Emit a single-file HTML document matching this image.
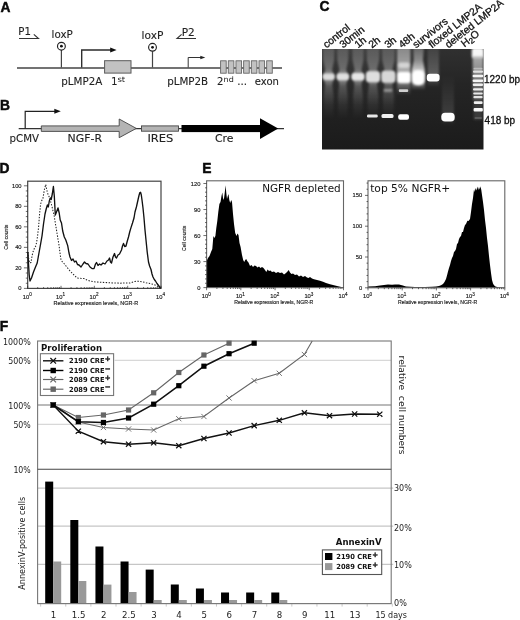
<!DOCTYPE html>
<html lang="en"><head><meta charset="utf-8"><title>Figure</title>
<style>
html,body{margin:0;padding:0;background:#fff;}
svg{display:block;}
.dj{font-family:'DejaVu Sans','Liberation Sans',sans-serif;}
.ls{font-family:'Liberation Sans','DejaVu Sans',sans-serif;}
.pl{font-family:'Liberation Sans','DejaVu Sans',sans-serif;font-weight:bold;font-size:13.8px;fill:#0a0a0a;stroke:#0a0a0a;stroke-width:0.45px;}
.t10{font-size:9.6px;fill:#222;stroke:#222;stroke-width:0.1px;}
.ax{font-family:'Liberation Sans','DejaVu Sans',sans-serif;font-size:5.8px;fill:#1a1a1a;stroke:#1a1a1a;stroke-width:0.15px;}
.axs{font-family:'Liberation Sans','DejaVu Sans',sans-serif;font-size:4.6px;fill:#1a1a1a;}
.f9{font-size:8.6px;fill:#222;}
.lg{font-size:7px;font-weight:bold;fill:#111;}
.gl{font-family:'Liberation Sans','DejaVu Sans',sans-serif;font-size:10.4px;fill:#111;stroke:#111;stroke-width:0.3px;}
</style></head><body>
<svg width="520" height="620" viewBox="0 0 520 620">
<defs>
<filter id="b1" x="-50%" y="-50%" width="200%" height="200%"><feGaussianBlur stdDeviation="1"/></filter>
<filter id="b08" x="-50%" y="-50%" width="200%" height="200%"><feGaussianBlur stdDeviation="0.8"/></filter>
<filter id="b06" x="-50%" y="-50%" width="200%" height="200%"><feGaussianBlur stdDeviation="0.6"/></filter>
<filter id="b2" x="-50%" y="-50%" width="200%" height="200%"><feGaussianBlur stdDeviation="2"/></filter>
<filter id="b3" x="-50%" y="-100%" width="200%" height="300%"><feGaussianBlur stdDeviation="3 5"/></filter>
<linearGradient id="gelbg" x1="0" y1="0" x2="0" y2="1">
<stop offset="0" stop-color="#303030"/><stop offset="0.35" stop-color="#252525"/><stop offset="1" stop-color="#1b1b1b"/>
</linearGradient>
<filter id="bh" x="-50%" y="-10%" width="200%" height="120%"><feGaussianBlur stdDeviation="1.2 1"/></filter>
<linearGradient id="lft" x1="0" y1="0" x2="0" y2="1"><stop offset="0" stop-color="#fff" stop-opacity="0.06"/><stop offset="1" stop-color="#fff" stop-opacity="0"/></linearGradient>
<linearGradient id="lg1" x1="0" y1="0" x2="0" y2="1"><stop offset="0" stop-color="#fff" stop-opacity="0.14"/><stop offset="0.3" stop-color="#fff" stop-opacity="0.28"/><stop offset="0.42" stop-color="#fff" stop-opacity="0.5"/><stop offset="0.55" stop-color="#fff" stop-opacity="0.2"/><stop offset="0.8" stop-color="#fff" stop-opacity="0.06"/><stop offset="1" stop-color="#fff" stop-opacity="0"/></linearGradient>
<linearGradient id="lg2" x1="0" y1="0" x2="0" y2="1"><stop offset="0" stop-color="#fff" stop-opacity="0.4"/><stop offset="0.5" stop-color="#fff" stop-opacity="0.6"/><stop offset="0.8" stop-color="#fff" stop-opacity="0.3"/><stop offset="1" stop-color="#fff" stop-opacity="0"/></linearGradient>
<linearGradient id="lg5" x1="0" y1="0" x2="0" y2="1"><stop offset="0" stop-color="#fff" stop-opacity="0.22"/><stop offset="0.35" stop-color="#fff" stop-opacity="0.45"/><stop offset="0.6" stop-color="#fff" stop-opacity="0.8"/><stop offset="0.85" stop-color="#fff" stop-opacity="0.4"/><stop offset="1" stop-color="#fff" stop-opacity="0"/></linearGradient>
<linearGradient id="lg3" x1="0" y1="0" x2="0" y2="1"><stop offset="0" stop-color="#fff" stop-opacity="0.08"/><stop offset="0.7" stop-color="#fff" stop-opacity="0.25"/><stop offset="1" stop-color="#fff" stop-opacity="0"/></linearGradient>
<linearGradient id="lg4" x1="0" y1="0" x2="0" y2="1"><stop offset="0" stop-color="#fff" stop-opacity="0"/><stop offset="0.8" stop-color="#fff" stop-opacity="0.13"/><stop offset="1" stop-color="#fff" stop-opacity="0"/></linearGradient>
<linearGradient id="ldg" x1="0" y1="0" x2="0" y2="1"><stop offset="0" stop-color="#ccc" stop-opacity="0.8"/><stop offset="0.6" stop-color="#999" stop-opacity="0.7"/><stop offset="1" stop-color="#777" stop-opacity="0.5"/></linearGradient>
<clipPath id="gelclip"><rect x="322" y="49" width="161.5" height="100.5"/></clipPath>
</defs>
<rect width="520" height="620" fill="#fff"/>

<g id="panelA">
<text class="pl" x="0.6" y="12">A</text>
<line x1="17" y1="67.9" x2="282" y2="67.9" stroke="#444" stroke-width="1.45"/>
<text class="dj t10" x="18.3" y="35" textLength="12.6" lengthAdjust="spacingAndGlyphs">P1</text>
<path d="M19 38.5H38.5L33.8 34.3" fill="none" stroke="#333" stroke-width="1.1"/>
<text class="dj t10" x="51.6" y="38.3" textLength="21.2" lengthAdjust="spacingAndGlyphs">loxP</text>
<line x1="61.4" y1="50" x2="61.4" y2="67.5" stroke="#444" stroke-width="1.2"/>
<circle cx="61.4" cy="46.2" r="3.9" fill="#fff" stroke="#222" stroke-width="1.15"/><circle cx="61.4" cy="46.2" r="1.4" fill="#111"/>
<path d="M81.7 67.5V50H111.5" fill="none" stroke="#2a2a2a" stroke-width="1.35"/><path d="M110.2 47.6L116.6 50L110.2 52.4Z" fill="#111"/>
<rect x="104.6" y="60.7" width="26.4" height="12.4" fill="#c2c2c2" stroke="#5a5a5a" stroke-width="1"/>
<text class="dj t10" x="61.3" y="84.9" textLength="41" lengthAdjust="spacingAndGlyphs">pLMP2A</text>
<text class="dj t10" x="111.3" y="84.9" textLength="6.2" lengthAdjust="spacingAndGlyphs">1</text>
<text class="dj" x="117.4" y="82.4" textLength="7.8" lengthAdjust="spacingAndGlyphs" font-size="7.6" fill="#222">st</text>
<text class="dj t10" x="141.6" y="38.5" textLength="21.8" lengthAdjust="spacingAndGlyphs">loxP</text>
<line x1="152.5" y1="51" x2="152.5" y2="67.5" stroke="#444" stroke-width="1.2"/>
<circle cx="152.5" cy="47.3" r="3.9" fill="#fff" stroke="#222" stroke-width="1.15"/><circle cx="152.5" cy="47.3" r="1.4" fill="#111"/>
<text class="dj t10" x="181.8" y="35.7" textLength="13" lengthAdjust="spacingAndGlyphs">P2</text>
<path d="M196 38.5H177L181.6 34.3" fill="none" stroke="#333" stroke-width="1.1"/>
<path d="M188.2 67.5V57.5H201" fill="none" stroke="#333" stroke-width="1"/><path d="M200.3 55.8L205.3 57.5L200.3 59.2Z" fill="#222"/>
<text class="dj t10" x="167.2" y="84.7" textLength="41" lengthAdjust="spacingAndGlyphs">pLMP2B</text>
<rect x="220.60" y="60.8" width="5.6" height="12.4" fill="#c2c2c2" stroke="#666" stroke-width="0.9"/>
<rect x="228.28" y="60.8" width="5.6" height="12.4" fill="#c2c2c2" stroke="#666" stroke-width="0.9"/>
<rect x="235.96" y="60.8" width="5.6" height="12.4" fill="#c2c2c2" stroke="#666" stroke-width="0.9"/>
<rect x="243.64" y="60.8" width="5.6" height="12.4" fill="#c2c2c2" stroke="#666" stroke-width="0.9"/>
<rect x="251.32" y="60.8" width="5.6" height="12.4" fill="#c2c2c2" stroke="#666" stroke-width="0.9"/>
<rect x="259.00" y="60.8" width="5.6" height="12.4" fill="#c2c2c2" stroke="#666" stroke-width="0.9"/>
<rect x="266.68" y="60.8" width="5.6" height="12.4" fill="#c2c2c2" stroke="#666" stroke-width="0.9"/>
<text class="dj t10" x="217" y="85" textLength="6.4" lengthAdjust="spacingAndGlyphs">2</text>
<text class="dj" x="223.6" y="82.4" textLength="10.2" lengthAdjust="spacingAndGlyphs" font-size="7.6" fill="#222">nd</text>
<text class="dj t10" x="237.3" y="85" textLength="9.8" lengthAdjust="spacingAndGlyphs">...</text>
<text class="dj t10" x="254.8" y="85" textLength="24.2" lengthAdjust="spacingAndGlyphs">exon</text>
</g>
<g id="panelB">
<text class="pl" x="0" y="110">B</text>
<line x1="18.7" y1="128.6" x2="284" y2="128.6" stroke="#333" stroke-width="1.1"/>
<path d="M25.2 128.5V111.3H56" fill="none" stroke="#222" stroke-width="1.2"/><path d="M54.3 108.8L60.8 111.3L54.3 113.8Z" fill="#111"/>
<path d="M41.3 125.9H119.2V119L136.3 128.4L119.2 137.7V131.4H41.3Z" fill="#b4b4b4" stroke="#444" stroke-width="0.9" stroke-linejoin="miter"/>
<rect x="141.5" y="125.9" width="37" height="5.3" fill="#b4b4b4" stroke="#444" stroke-width="0.9"/>
<rect x="181.5" y="125" width="80" height="7.1" fill="#000"/>
<path d="M260 118.3L278.2 128.6L260 138.9Z" fill="#000"/>
<text class="dj t10" x="9.6" y="141.8" textLength="29.5" lengthAdjust="spacingAndGlyphs">pCMV</text>
<text class="dj t10" x="67.6" y="141.8" textLength="34.5" lengthAdjust="spacingAndGlyphs">NGF-R</text>
<text class="dj t10" x="147.4" y="141.9" textLength="26" lengthAdjust="spacingAndGlyphs">IRES</text>
<text class="dj t10" x="215" y="141.9" textLength="18.6" lengthAdjust="spacingAndGlyphs">Cre</text>
</g>
<g id="panelC">
<text class="pl" x="319.5" y="11">C</text>
<rect x="322" y="49" width="161.5" height="100.5" fill="url(#gelbg)"/>
<g clip-path="url(#gelclip)">
<rect x="322" y="49" width="74.6" height="62" fill="url(#lft)"/>
<path d="M322.9 47 L334.4 47 L334.2 60 L332.1 70 L334.4 76 L332.3 84 L333.6 96 L333.3 119 L324.1 119 L323.8 96 L325.1 84 L322.9 76 L325.2 70 L323.2 60 Z" fill="url(#lg1)" filter="url(#bh)"/>
<path d="M337.1 47 L348.6 47 L348.3 60 L346.2 70 L348.6 76 L346.4 84 L347.7 96 L347.4 119 L338.2 119 L337.9 96 L339.2 84 L337.1 76 L339.4 70 L337.3 60 Z" fill="url(#lg1)" filter="url(#bh)"/>
<path d="M352.2 47 L363.8 47 L363.5 60 L361.4 70 L363.8 76 L361.6 84 L362.9 96 L362.6 119 L353.4 119 L353.1 96 L354.4 84 L352.2 76 L354.6 70 L352.5 60 Z" fill="url(#lg1)" filter="url(#bh)"/>
<path d="M366.5 47 L379.5 47 L379.2 60 L376.9 70 L379.5 76 L377.0 84 L378.5 96 L378.2 119 L367.8 119 L367.5 96 L369.0 84 L366.5 76 L369.1 70 L366.8 60 Z" fill="url(#lg1)" filter="url(#bh)"/>
<path d="M381.9 47 L394.9 47 L394.6 60 L392.3 70 L394.9 76 L392.4 84 L393.9 96 L393.6 119 L383.2 119 L382.9 96 L384.4 84 L381.9 76 L384.5 70 L382.2 60 Z" fill="url(#lg1)" filter="url(#bh)"/>
<rect x="397" y="45" width="13.5" height="50" fill="url(#lg2)" filter="url(#bh)"/>
<path d="M413 45H424L423 60L424.8 70V90H411.8V70L413.6 60Z" fill="url(#lg5)" filter="url(#bh)"/>
<rect x="427.5" y="47" width="11.5" height="40" fill="url(#lg3)" filter="url(#bh)"/>
<rect x="442" y="75" width="12" height="50" fill="url(#lg4)" filter="url(#bh)"/>
<rect x="322.7" y="73.4" width="12" height="6.6" rx="3.2" fill="#dcdcdc" filter="url(#b1)"/>
<rect x="336.6" y="73.2" width="12.4" height="7" rx="3.2" fill="#e0e0e0" filter="url(#b1)"/>
<rect x="351.5" y="73.0" width="13" height="7.4" rx="3.2" fill="#e6e6e6" filter="url(#b1)"/>
<rect x="366.0" y="71.2" width="14" height="11" rx="3.2" fill="#dedede" filter="url(#b1)"/>
<rect x="381.4" y="70.7" width="14" height="12" rx="3.2" fill="#d8d8d8" filter="url(#b1)"/>
<rect x="397.3" y="71.8" width="13.4" height="11.4" rx="3" fill="#fff" filter="url(#b1)"/>
<rect x="398.4" y="62.4" width="11" height="5.6" rx="2" fill="#d4d4d4" filter="url(#b1)"/>
<rect x="398.8" y="89.2" width="9.4" height="2.8" rx="1" fill="#d0d0d0" filter="url(#b06)"/>
<rect x="383.8" y="89" width="8.5" height="2.8" rx="1" fill="#999" filter="url(#b1)"/>
<rect x="412" y="70.2" width="12.6" height="15" rx="5" fill="#fff" filter="url(#b1)"/>
<rect x="426.8" y="73.8" width="12.8" height="7.8" rx="3" fill="#fff" filter="url(#b06)"/>
<rect x="367" y="114.6" width="10.7" height="2.9" rx="1.2" fill="#e8e8e8" filter="url(#b06)"/>
<rect x="381.5" y="114" width="12" height="4" rx="1.5" fill="#f0f0f0" filter="url(#b06)"/>
<rect x="398.2" y="114.2" width="10.8" height="5.5" rx="2" fill="#fff" filter="url(#b06)"/>
<rect x="441.3" y="112.8" width="13.4" height="8.8" rx="3.8" fill="#fff" filter="url(#b06)"/>
<rect x="471.8" y="48" width="12" height="10" rx="2" fill="#f6f6f6" filter="url(#b1)"/>
<rect x="472.6" y="56" width="10.6" height="44" fill="url(#ldg)" filter="url(#b1)"/>
<rect x="473.5" y="98" width="9" height="22" fill="#666" opacity="0.4" filter="url(#b1)"/>
<rect x="473.5" y="67.8" width="9" height="1.8" rx="1" fill="#bbb" filter="url(#b06)"/>
<rect x="473" y="70.5" width="10" height="2.2" rx="1" fill="#e0e0e0" filter="url(#b06)"/>
<rect x="472.6" y="74.7" width="10.6" height="2.6" rx="1" fill="#f4f4f4" filter="url(#b06)"/>
<rect x="472.6" y="79.5" width="10.6" height="2.6" rx="1" fill="#f4f4f4" filter="url(#b06)"/>
<rect x="472.8" y="83.6" width="10.2" height="2.4" rx="1" fill="#eee" filter="url(#b06)"/>
<rect x="473" y="88.2" width="10" height="2.4" rx="1" fill="#eee" filter="url(#b06)"/>
<rect x="473.2" y="92.4" width="9.6" height="2.2" rx="1" fill="#e8e8e8" filter="url(#b06)"/>
<rect x="473.4" y="96.1" width="9.2" height="2.2" rx="1" fill="#e4e4e4" filter="url(#b06)"/>
<rect x="473.8" y="101.2" width="8.8" height="2.8" rx="1" fill="#f0f0f0" filter="url(#b06)"/>
<rect x="473.6" y="108.0" width="9.2" height="3.4" rx="1" fill="#fafafa" filter="url(#b06)"/>
<rect x="474.5" y="117.2" width="7.5" height="1.6" rx="1" fill="#666" filter="url(#b06)"/>
</g>
<text class="gl" transform="translate(326.5,48.5) rotate(-38.5)">control</text>
<text class="gl" transform="translate(343,48.5) rotate(-38.5)">30min</text>
<text class="gl" transform="translate(358,48.5) rotate(-38.5)">1h</text>
<text class="gl" transform="translate(372,48.5) rotate(-38.5)">2h</text>
<text class="gl" transform="translate(388,48.5) rotate(-38.5)">3h</text>
<text class="gl" transform="translate(402,48.5) rotate(-38.5)">48h</text>
<text class="gl" transform="translate(416,48.5) rotate(-38.5)">survivors</text>
<text class="gl" transform="translate(432,48.5) rotate(-38.5)">floxed LMP2A</text>
<text class="gl" transform="translate(448.5,48.5) rotate(-38.5)">deleted LMP2A</text>
<text class="gl" transform="translate(464.5,47.5) rotate(-38.5)">H<tspan font-size="8" dy="1.8">2</tspan><tspan dy="-1.8">O</tspan></text>
<text class="ls" font-size="10" fill="#111" stroke="#111" stroke-width="0.3" x="484" y="82.6">1220 bp</text>
<text class="ls" font-size="10" fill="#111" stroke="#111" stroke-width="0.3" x="484.6" y="123.8">418 bp</text>
</g>
<g id="panelD">
<text class="pl" x="-0.6" y="173.3">D</text>
<rect x="27.7" y="181.2" width="133.3" height="107.19999999999999" fill="none" stroke="#444" stroke-width="1.2"/>
<path d="M27.70 288.4v-2.6M37.73 288.4v-1.4M43.60 288.4v-1.4M47.76 288.4v-1.4M50.99 288.4v-1.4M53.63 288.4v-1.4M55.86 288.4v-1.4M57.80 288.4v-1.4M59.50 288.4v-1.4M61.03 288.4v-2.6M71.06 288.4v-1.4M76.93 288.4v-1.4M81.09 288.4v-1.4M84.32 288.4v-1.4M86.96 288.4v-1.4M89.19 288.4v-1.4M91.12 288.4v-1.4M92.83 288.4v-1.4M94.35 288.4v-2.6M104.38 288.4v-1.4M110.25 288.4v-1.4M114.41 288.4v-1.4M117.64 288.4v-1.4M120.28 288.4v-1.4M122.51 288.4v-1.4M124.45 288.4v-1.4M126.15 288.4v-1.4M127.68 288.4v-2.6M137.71 288.4v-1.4M143.58 288.4v-1.4M147.74 288.4v-1.4M150.97 288.4v-1.4M153.61 288.4v-1.4M155.84 288.4v-1.4M157.77 288.4v-1.4M159.48 288.4v-1.4M161.00 288.4v-2.6" stroke="#222" stroke-width="0.65" fill="none"/>
<path d="M27.7 288.40h-3.8M27.7 283.27h-1.9M27.7 278.14h-1.9M27.7 273.01h-1.9M27.7 267.88h-3.8M27.7 262.75h-1.9M27.7 257.62h-1.9M27.7 252.49h-1.9M27.7 247.36h-3.8M27.7 242.23h-1.9M27.7 237.10h-1.9M27.7 231.97h-1.9M27.7 226.84h-3.8M27.7 221.71h-1.9M27.7 216.58h-1.9M27.7 211.45h-1.9M27.7 206.32h-3.8M27.7 201.19h-1.9M27.7 196.06h-1.9M27.7 190.93h-1.9M27.7 185.80h-3.8" stroke="#222" stroke-width="0.65" fill="none"/>
<text class="ax" text-anchor="end" x="21.6" y="290.4">0</text>
<text class="ax" text-anchor="end" x="21.6" y="269.9">20</text>
<text class="ax" text-anchor="end" x="21.6" y="249.4">40</text>
<text class="ax" text-anchor="end" x="21.6" y="228.8">60</text>
<text class="ax" text-anchor="end" x="21.6" y="208.3">80</text>
<text class="ax" text-anchor="end" x="21.6" y="187.8">100</text>
<text class="ax" x="22.8" y="298.7">10<tspan class="axs" dy="-2.3">0</tspan></text><text class="ax" x="56.1" y="298.7">10<tspan class="axs" dy="-2.3">1</tspan></text><text class="ax" x="89.5" y="298.7">10<tspan class="axs" dy="-2.3">2</tspan></text><text class="ax" x="122.8" y="298.7">10<tspan class="axs" dy="-2.3">3</tspan></text><text class="ax" x="156.1" y="298.7">10<tspan class="axs" dy="-2.3">4</tspan></text>
<text class="ax" style="font-size:5.5px" x="53.6" y="304.7">Relative expression levels, NGR-R</text>
<text class="ax" style="font-size:5.1px" transform="translate(7.6,249.8) rotate(-90)">Cell counts</text>
<polyline fill="none" stroke="#111" stroke-width="1.35" stroke-linejoin="round" points="27.9,252 28.4,262 29.2,275 30,281 31.5,278 33.5,272 35.5,267 37.2,263 38.8,254 40.6,244 42,236 43.5,224 45,214 46.2,209 47.4,205 48.3,207 49.3,201 50.4,198 51.2,199.5 52.3,194 53.4,186.5 54.3,196 55.3,215 56.5,212 58,208 59.2,213 60.2,220 61.5,223 62.7,231 64.3,237 65.8,240 67.7,245.6 69,253 70,257 71.5,260.5 73,259 74.5,262 76,261 77.5,264.5 79,265 81,267 83,264 84.5,262 86,263.5 88,264 90,267 92,268.5 94,268.6 95.5,264 96.5,262.5 98,265.5 99.5,264 101,265 103,263 105,264 107,261 108.5,260 109.5,258 110.5,262 111.5,263 113,257 114.5,253.5 115.5,257 116.5,258 118,255 119.5,254 121.5,250 122.5,246 123.5,243.4 124.7,246.5 126,246 127.3,241 128.5,237 129.7,232 131,227.6 132.5,223 134,218 135,212 136.4,207 137.3,203 138.2,199 139,195.5 139.8,192.6 140.6,192.3 141.3,195 142,200 143,208 144,218 145,230 146,240 147.2,252 148.5,262 149.6,266 151,269.5 152,274 153,277 154.3,279.5 155.5,281 157,283.5 158.5,285.5 160,287.5 161,288.2"/>
<polyline fill="none" stroke="#222" stroke-width="1.05" stroke-dasharray="1.4 1.5" points="27.9,252 28.6,258 29.5,263 31,262.5 32,256 33,252 34.5,248 36,245.5 37.3,238 38.5,228 39.5,215 40.6,204 41.8,200.5 43,198 44.3,190 45.7,184.5 46.6,189 47.5,193 48.8,196 50,199 51,203 52,206.5 53,211 54.2,216 55.3,223 56.5,230 57.8,238 59,245 60,253 61,260 62.5,262 64,263.5 66,266 68,268.5 70,271 72,273 74.5,275.5 77,278 80,278.3 84,278.6 87,280 90,281 93,281.6 96,282 100,282.2 105,282.5 110,282.8 115,283 120,283.2 125,283 130,283 133,282 135,281.4 138,281.3 140,281.5 143,282 146,282.7 150,283.5 153,284.3 156,285.5 158.5,286.8 161,288.2"/>
</g>
<g id="panelE">
<text class="pl" x="202.3" y="173.2">E</text>
<polygon fill="#000" points="206.6,261 208,258 209.5,256 211,252 212.3,249 213.4,236 214.4,238 215.4,236 216.3,228 217.3,221 218.3,212 219.4,204 220.5,202 221.5,196 222.3,192.6 223,198 223.8,200 224.6,194 225.6,185.3 226.3,193 227,199 227.8,196 228.5,194 229.3,200 230.2,203 231.2,200 232,202 233,214 234,224 235.2,233 236.5,236 237.5,233.5 238.5,235 239.5,243 240.6,247 242,255 243.2,260 244.2,262 245.2,260 246.2,259 247.2,261 248.5,262.5 250,266 251.5,265 253,267 254.5,265.5 256,266 257.5,267.5 259,266.5 260.5,268 262,267 263.5,268 265,270 266.3,272 267.6,269.5 269,271 270.5,270.5 272,272 274,271.5 276,273 278,272 280,273 282,272.5 284,274.5 286,273 287.5,271.5 288.7,270 290,272.5 291.5,274 293,273.5 295,275 297,274.5 299,276.5 301,275.5 303,277 305,276 307,277.5 308.5,278 310,277 312,278.6 314,279.2 316,279.8 318,280.2 320,280.8 323,281.8 326,283 330,284.3 334,285.3 338,286.3 343.5,287.5 343.5,287.6 206.6,287.6"/>
<rect x="206.6" y="180.8" width="136.9" height="106.80000000000001" fill="none" stroke="#666" stroke-width="1.1"/>
<path d="M206.60 287.6v2.6M216.90 287.6v1.4M222.93 287.6v1.4M227.21 287.6v1.4M230.52 287.6v1.4M233.23 287.6v1.4M235.52 287.6v1.4M237.51 287.6v1.4M239.26 287.6v1.4M240.82 287.6v2.6M251.13 287.6v1.4M257.15 287.6v1.4M261.43 287.6v1.4M264.75 287.6v1.4M267.46 287.6v1.4M269.75 287.6v1.4M271.73 287.6v1.4M273.48 287.6v1.4M275.05 287.6v2.6M285.35 287.6v1.4M291.38 287.6v1.4M295.66 287.6v1.4M298.97 287.6v1.4M301.68 287.6v1.4M303.97 287.6v1.4M305.96 287.6v1.4M307.71 287.6v1.4M309.27 287.6v2.6M319.58 287.6v1.4M325.60 287.6v1.4M329.88 287.6v1.4M333.20 287.6v1.4M335.91 287.6v1.4M338.20 287.6v1.4M340.18 287.6v1.4M341.93 287.6v1.4M343.50 287.6v2.6" stroke="#222" stroke-width="0.65" fill="none"/>
<path d="M206.6 287.60h-3.2M206.6 283.26h-1.6M206.6 278.93h-1.6M206.6 274.59h-1.6M206.6 270.25h-1.6M206.6 265.91h-1.6M206.6 261.58h-3.2M206.6 257.24h-1.6M206.6 252.90h-1.6M206.6 248.56h-1.6M206.6 244.23h-1.6M206.6 239.89h-1.6M206.6 235.55h-3.2M206.6 231.21h-1.6M206.6 226.88h-1.6M206.6 222.54h-1.6M206.6 218.20h-1.6M206.6 213.86h-1.6M206.6 209.53h-3.2M206.6 205.19h-1.6M206.6 200.85h-1.6M206.6 196.51h-1.6M206.6 192.18h-1.6M206.6 187.84h-1.6M206.6 183.50h-3.2" stroke="#222" stroke-width="0.65" fill="none"/>
<text class="ax" text-anchor="end" x="200.4" y="289.6">0</text>
<text class="ax" text-anchor="end" x="200.4" y="263.6">30</text>
<text class="ax" text-anchor="end" x="200.4" y="237.6">60</text>
<text class="ax" text-anchor="end" x="200.4" y="211.5">90</text>
<text class="ax" text-anchor="end" x="200.4" y="185.5">120</text>
<text class="ax" x="201.7" y="297.8">10<tspan class="axs" dy="-2.3">0</tspan></text><text class="ax" x="235.9" y="297.8">10<tspan class="axs" dy="-2.3">1</tspan></text><text class="ax" x="270.2" y="297.8">10<tspan class="axs" dy="-2.3">2</tspan></text><text class="ax" x="304.4" y="297.8">10<tspan class="axs" dy="-2.3">3</tspan></text><text class="ax" x="338.6" y="297.8">10<tspan class="axs" dy="-2.3">4</tspan></text>
<text class="ax" style="font-size:5.15px" x="234.2" y="304.3">Relative expression levels, NGR-R</text>
<text class="ax" style="font-size:5.1px" transform="translate(186.4,250.9) rotate(-90)">Cell counts</text>
<text class="dj" font-size="11" fill="#111" x="262.2" y="192" textLength="78.5" lengthAdjust="spacingAndGlyphs">NGFR depleted</text>
<polygon fill="#000" points="368,286.4 375,286.2 380,285.6 384,285 388,284.6 392,284.8 395,284.5 399,284.4 402,285.2 406,286.4 415,287 425,287 432,286.8 436,286.6 439,286 441,285.2 443,284 444.5,282 446,279 447,275.5 448,271.6 449,268 450,265 451,261 452,258 453,256 454,252 455,251 456,249 457,244 458,243 459,239 460,237 461,236 462,232 463,232 464,228 465,225 466,224 467.4,220.8 468.5,221 470,219 471,212 472,204 473,198 474,189.2 474.8,192 475.6,188 476.5,190.5 477.3,186.5 478.2,190 479,187 479.8,189.5 480.5,186.3 481.3,190 482,195 483,202 484,210 485,220 486,228 487,238 488,246 489,256 490,265 491,273 492,280 493,283.5 494,285.3 495.5,286.5 498,287.2 504.8,287.5 504.8,287.8 368,287.8"/>
<rect x="368" y="180.8" width="136.8" height="107.0" fill="none" stroke="#666" stroke-width="1.1"/>
<path d="M368.00 287.8v2.6M378.30 287.8v1.4M384.32 287.8v1.4M388.59 287.8v1.4M391.90 287.8v1.4M394.61 287.8v1.4M396.90 287.8v1.4M398.89 287.8v1.4M400.64 287.8v1.4M402.20 287.8v2.6M412.50 287.8v1.4M418.52 287.8v1.4M422.79 287.8v1.4M426.10 287.8v1.4M428.81 287.8v1.4M431.10 287.8v1.4M433.09 287.8v1.4M434.84 287.8v1.4M436.40 287.8v2.6M446.70 287.8v1.4M452.72 287.8v1.4M456.99 287.8v1.4M460.30 287.8v1.4M463.01 287.8v1.4M465.30 287.8v1.4M467.29 287.8v1.4M469.04 287.8v1.4M470.60 287.8v2.6M480.90 287.8v1.4M486.92 287.8v1.4M491.19 287.8v1.4M494.50 287.8v1.4M497.21 287.8v1.4M499.50 287.8v1.4M501.49 287.8v1.4M503.24 287.8v1.4M504.80 287.8v2.6" stroke="#222" stroke-width="0.65" fill="none"/>
<path d="M368 287.80h-3.0M368 281.64h-1.5M368 275.48h-1.5M368 269.32h-1.5M368 263.16h-1.5M368 257.00h-3.0M368 250.84h-1.5M368 244.68h-1.5M368 238.52h-1.5M368 232.36h-1.5M368 226.20h-3.0M368 220.04h-1.5M368 213.88h-1.5M368 207.72h-1.5M368 201.56h-1.5M368 195.40h-3.0M368 189.24h-1.5M368 183.08h-1.5" stroke="#222" stroke-width="0.65" fill="none"/>
<text class="ax" text-anchor="end" x="362.2" y="289.8">0</text>
<text class="ax" text-anchor="end" x="362.2" y="259.0">50</text>
<text class="ax" text-anchor="end" x="362.2" y="228.2">100</text>
<text class="ax" text-anchor="end" x="362.2" y="197.4">150</text>
<text class="ax" x="363.1" y="297.8">10<tspan class="axs" dy="-2.3">0</tspan></text><text class="ax" x="397.3" y="297.8">10<tspan class="axs" dy="-2.3">1</tspan></text><text class="ax" x="431.5" y="297.8">10<tspan class="axs" dy="-2.3">2</tspan></text><text class="ax" x="465.7" y="297.8">10<tspan class="axs" dy="-2.3">3</tspan></text><text class="ax" x="499.9" y="297.8">10<tspan class="axs" dy="-2.3">4</tspan></text>
<text class="ax" style="font-size:5.15px" x="398" y="303.5">Relative expression levels, NGR-R</text>
<text class="dj" font-size="11" fill="#111" x="370.2" y="192.1" textLength="80" lengthAdjust="spacingAndGlyphs">top 5% NGFR+</text>
</g>
<g id="panelF">
<text class="pl" x="-0.2" y="331.3">F</text>
<line x1="37.6" y1="360.3" x2="391.2" y2="360.3" stroke="#c8c8c8" stroke-width="0.9"/>
<line x1="37.6" y1="424.3" x2="391.2" y2="424.3" stroke="#c8c8c8" stroke-width="0.9"/>
<line x1="37.6" y1="405" x2="391.2" y2="405" stroke="#777" stroke-width="1.1"/>
<line x1="37.6" y1="488.1" x2="393.2" y2="488.1" stroke="#c6c6c6" stroke-width="1.2"/>
<line x1="37.6" y1="526.1" x2="393.2" y2="526.1" stroke="#c6c6c6" stroke-width="1.2"/>
<line x1="37.6" y1="564.3" x2="393.2" y2="564.3" stroke="#c6c6c6" stroke-width="1.2"/>
<line x1="37.6" y1="603.6" x2="391.2" y2="603.6" stroke="#aaa" stroke-width="0.9"/>
<path d="M40.64 603.6v3M65.76 603.6v3M90.88 603.6v3M116.00 603.6v3M141.12 603.6v3M166.24 603.6v3M191.36 603.6v3M216.48 603.6v3M241.60 603.6v3M266.72 603.6v3M291.84 603.6v3M316.96 603.6v3M342.08 603.6v3M367.20 603.6v3M392.32 603.6v3" stroke="#bbb" stroke-width="0.8" fill="none"/>
<rect x="45.20" y="481.6" width="8" height="122.0" fill="#000"/>
<rect x="53.20" y="561.5" width="8" height="42.1" fill="#999"/>
<rect x="70.32" y="520" width="8" height="83.6" fill="#000"/>
<rect x="78.32" y="581" width="8" height="22.6" fill="#999"/>
<rect x="95.44" y="546.5" width="8" height="57.1" fill="#000"/>
<rect x="103.44" y="584.6" width="8" height="19.0" fill="#999"/>
<rect x="120.56" y="561.5" width="8" height="42.1" fill="#000"/>
<rect x="128.56" y="592" width="8" height="11.6" fill="#999"/>
<rect x="145.68" y="569.6" width="8" height="34.0" fill="#000"/>
<rect x="153.68" y="600" width="8" height="3.6" fill="#999"/>
<rect x="170.80" y="584.5" width="8" height="19.1" fill="#000"/>
<rect x="178.80" y="600" width="8" height="3.6" fill="#999"/>
<rect x="195.92" y="588.5" width="8" height="15.1" fill="#000"/>
<rect x="203.92" y="600" width="8" height="3.6" fill="#999"/>
<rect x="221.04" y="592.5" width="8" height="11.1" fill="#000"/>
<rect x="229.04" y="600" width="8" height="3.6" fill="#999"/>
<rect x="246.16" y="592.5" width="8" height="11.1" fill="#000"/>
<rect x="254.16" y="600" width="8" height="3.6" fill="#999"/>
<rect x="271.28" y="592.5" width="8" height="11.1" fill="#000"/>
<rect x="279.28" y="600" width="8" height="3.6" fill="#999"/>
<rect x="37.6" y="341" width="353.59999999999997" height="262.6" fill="none" stroke="#777" stroke-width="1.1"/>
<line x1="37.6" y1="469.3" x2="391.2" y2="469.3" stroke="#444" stroke-width="1.1"/>
<clipPath id="fc"><rect x="37.6" y="338" width="353.59999999999997" height="131.3"/></clipPath>
<g clip-path="url(#fc)">
<polyline points="53.20,405 78.32,422 103.44,427.5 128.56,429 153.68,430 178.80,418.7 203.92,416.5 229.04,398 254.16,380.7 279.28,373.3 304.40,354.5 312.20,341" fill="none" stroke="#666" stroke-width="1.1"/><path d="M50.60 402.4l5.2 5.2m0 -5.2l-5.2 5.2M75.72 419.4l5.2 5.2m0 -5.2l-5.2 5.2M100.84 424.9l5.2 5.2m0 -5.2l-5.2 5.2M125.96 426.4l5.2 5.2m0 -5.2l-5.2 5.2M151.08 427.4l5.2 5.2m0 -5.2l-5.2 5.2M176.20 416.09999999999997l5.2 5.2m0 -5.2l-5.2 5.2M201.32 413.9l5.2 5.2m0 -5.2l-5.2 5.2M226.44 395.4l5.2 5.2m0 -5.2l-5.2 5.2M251.56 378.09999999999997l5.2 5.2m0 -5.2l-5.2 5.2M276.68 370.7l5.2 5.2m0 -5.2l-5.2 5.2M301.80 351.9l5.2 5.2m0 -5.2l-5.2 5.2" stroke="#666" stroke-width="0.9" fill="none"/>
<polyline points="53.20,405 78.32,431.2 103.44,441.7 128.56,444.2 153.68,442.8 178.80,445.7 203.92,438.5 229.04,433 254.16,425.6 279.28,420.3 304.40,412.8 329.52,415.7 354.64,414 379.76,414.2" fill="none" stroke="#111" stroke-width="1.4"/><path d="M50.60 402.4l5.2 5.2m0 -5.2l-5.2 5.2M75.72 428.59999999999997l5.2 5.2m0 -5.2l-5.2 5.2M100.84 439.09999999999997l5.2 5.2m0 -5.2l-5.2 5.2M125.96 441.59999999999997l5.2 5.2m0 -5.2l-5.2 5.2M151.08 440.2l5.2 5.2m0 -5.2l-5.2 5.2M176.20 443.09999999999997l5.2 5.2m0 -5.2l-5.2 5.2M201.32 435.9l5.2 5.2m0 -5.2l-5.2 5.2M226.44 430.4l5.2 5.2m0 -5.2l-5.2 5.2M251.56 423.0l5.2 5.2m0 -5.2l-5.2 5.2M276.68 417.7l5.2 5.2m0 -5.2l-5.2 5.2M301.80 410.2l5.2 5.2m0 -5.2l-5.2 5.2M326.92 413.09999999999997l5.2 5.2m0 -5.2l-5.2 5.2M352.04 411.4l5.2 5.2m0 -5.2l-5.2 5.2M377.16 411.59999999999997l5.2 5.2m0 -5.2l-5.2 5.2" stroke="#111" stroke-width="1.25" fill="none"/>
<polyline points="53.20,405 78.32,417.5 103.44,415 128.56,410 153.68,392.8 178.80,372.5 203.92,355 229.04,343.2" fill="none" stroke="#666" stroke-width="1.1"/><rect x="50.60" y="402.4" width="5.2" height="5.2" fill="#666"/><rect x="75.72" y="414.9" width="5.2" height="5.2" fill="#666"/><rect x="100.84" y="412.4" width="5.2" height="5.2" fill="#666"/><rect x="125.96" y="407.4" width="5.2" height="5.2" fill="#666"/><rect x="151.08" y="390.2" width="5.2" height="5.2" fill="#666"/><rect x="176.20" y="369.9" width="5.2" height="5.2" fill="#666"/><rect x="201.32" y="352.4" width="5.2" height="5.2" fill="#666"/><rect x="226.44" y="340.59999999999997" width="5.2" height="5.2" fill="#666"/>
<polyline points="53.20,405 78.32,421.7 103.44,422.5 128.56,418 153.68,404.2 178.80,385.7 203.92,366.2 229.04,353.7 254.16,343.2" fill="none" stroke="#111" stroke-width="1.55"/><rect x="50.60" y="402.4" width="5.2" height="5.2" fill="#000"/><rect x="75.72" y="419.09999999999997" width="5.2" height="5.2" fill="#000"/><rect x="100.84" y="419.9" width="5.2" height="5.2" fill="#000"/><rect x="125.96" y="415.4" width="5.2" height="5.2" fill="#000"/><rect x="151.08" y="401.59999999999997" width="5.2" height="5.2" fill="#000"/><rect x="176.20" y="383.09999999999997" width="5.2" height="5.2" fill="#000"/><rect x="201.32" y="363.59999999999997" width="5.2" height="5.2" fill="#000"/><rect x="226.44" y="351.09999999999997" width="5.2" height="5.2" fill="#000"/><rect x="251.56" y="340.59999999999997" width="5.2" height="5.2" fill="#000"/>
</g>
<text class="dj f9" x="3.0" y="344.6" textLength="27.8" lengthAdjust="spacingAndGlyphs">1000%</text>
<text class="dj f9" x="8.2" y="363.9" textLength="22.6" lengthAdjust="spacingAndGlyphs">500%</text>
<text class="dj f9" x="8.2" y="408.6" textLength="22.6" lengthAdjust="spacingAndGlyphs">100%</text>
<text class="dj f9" x="13.4" y="427.9" textLength="17.4" lengthAdjust="spacingAndGlyphs">50%</text>
<text class="dj f9" x="13.4" y="472.6" textLength="17.4" lengthAdjust="spacingAndGlyphs">10%</text>
<text class="dj f9" x="394" y="491.3" textLength="17.8" lengthAdjust="spacingAndGlyphs">30%</text>
<text class="dj f9" x="394" y="530.5" textLength="17.8" lengthAdjust="spacingAndGlyphs">20%</text>
<text class="dj f9" x="394" y="568.3" textLength="17.8" lengthAdjust="spacingAndGlyphs">10%</text>
<text class="dj f9" x="394" y="605.8" textLength="12.8" lengthAdjust="spacingAndGlyphs">0%</text>
<text class="dj f9" text-anchor="middle" x="53.5" y="618.3">1</text>
<text class="dj f9" text-anchor="middle" x="78.6" y="618.3">1.5</text>
<text class="dj f9" text-anchor="middle" x="103.7" y="618.3">2</text>
<text class="dj f9" text-anchor="middle" x="128.9" y="618.3">2.5</text>
<text class="dj f9" text-anchor="middle" x="154.0" y="618.3">3</text>
<text class="dj f9" text-anchor="middle" x="179.1" y="618.3">4</text>
<text class="dj f9" text-anchor="middle" x="204.2" y="618.3">5</text>
<text class="dj f9" text-anchor="middle" x="229.3" y="618.3">6</text>
<text class="dj f9" text-anchor="middle" x="254.5" y="618.3">7</text>
<text class="dj f9" text-anchor="middle" x="279.6" y="618.3">8</text>
<text class="dj f9" text-anchor="middle" x="304.7" y="618.3">9</text>
<text class="dj f9" text-anchor="middle" x="329.8" y="618.3">11</text>
<text class="dj f9" text-anchor="middle" x="354.9" y="618.3">13</text>
<text class="dj f9" x="375.4" y="618.3" textLength="31.6" lengthAdjust="spacingAndGlyphs">15 days</text>
<text class="dj f9" transform="translate(25.3,589.7) rotate(-90)" textLength="92.8" lengthAdjust="spacingAndGlyphs">AnnexinV-positive cells</text>
<text class="dj f9" transform="translate(398.6,355.6) rotate(90)" textLength="34.6" lengthAdjust="spacingAndGlyphs">relative</text>
<text class="dj f9" transform="translate(398.6,395.8) rotate(90)" textLength="16.2" lengthAdjust="spacingAndGlyphs">cell</text>
<text class="dj f9" transform="translate(398.6,414.8) rotate(90)" textLength="39.6" lengthAdjust="spacingAndGlyphs">numbers</text>
<rect x="38.6" y="342" width="76" height="55" fill="#fff"/>
<text class="dj" font-size="8.6" font-weight="bold" fill="#111" x="41" y="350.8">Proliferation</text>
<rect x="40.4" y="353.7" width="73.2" height="41.8" fill="#fff" stroke="#777" stroke-width="1.1"/>
<line x1="43" y1="360.8" x2="63.4" y2="360.8" stroke="#111" stroke-width="1.4"/>
<path d="M50.4 358.0l5.6 5.6m0 -5.6l-5.6 5.6" stroke="#111" stroke-width="1.2" fill="none"/>
<text class="dj lg" x="69" y="363.3" textLength="35.6" lengthAdjust="spacingAndGlyphs">2190 CRE</text>
<text class="dj lg" style="font-size:7px;stroke:#111;stroke-width:0.35px" x="104.8" y="361.0">+</text>
<line x1="43" y1="370.5" x2="63.4" y2="370.5" stroke="#000" stroke-width="1.4"/>
<rect x="50.5" y="367.8" width="5.4" height="5.4" fill="#000"/>
<text class="dj lg" x="69" y="373.0" textLength="35.6" lengthAdjust="spacingAndGlyphs">2190 CRE</text>
<text class="dj lg" style="font-size:7px;stroke:#111;stroke-width:0.35px" x="104.8" y="370.7">−</text>
<line x1="43" y1="379.5" x2="63.4" y2="379.5" stroke="#666" stroke-width="1.15"/>
<path d="M50.4 376.7l5.6 5.6m0 -5.6l-5.6 5.6" stroke="#666" stroke-width="1.2" fill="none"/>
<text class="dj lg" x="69" y="382.0" textLength="35.6" lengthAdjust="spacingAndGlyphs">2089 CRE</text>
<text class="dj lg" style="font-size:7px;stroke:#111;stroke-width:0.35px" x="104.8" y="379.7">+</text>
<line x1="43" y1="389.2" x2="63.4" y2="389.2" stroke="#666" stroke-width="1.15"/>
<rect x="50.5" y="386.5" width="5.4" height="5.4" fill="#666"/>
<text class="dj lg" x="69" y="391.7" textLength="35.6" lengthAdjust="spacingAndGlyphs">2089 CRE</text>
<text class="dj lg" style="font-size:7px;stroke:#111;stroke-width:0.35px" x="104.8" y="389.4">−</text>
<text class="dj" font-size="8.4" font-weight="bold" fill="#111" x="335.8" y="544.6" textLength="45.8" lengthAdjust="spacingAndGlyphs">AnnexinV</text>
<rect x="322.4" y="549.9" width="59.3" height="24.6" fill="#fff" stroke="#555" stroke-width="1.1"/>
<rect x="325" y="553.0" width="7.4" height="7" fill="#000"/>
<text class="dj lg" x="336.3" y="559.0" textLength="35.6" lengthAdjust="spacingAndGlyphs">2190 CRE</text>
<text class="dj lg" style="font-size:7px;stroke:#111;stroke-width:0.35px" x="372.2" y="556.9">+</text>
<rect x="325" y="563.1" width="7.4" height="7" fill="#999"/>
<text class="dj lg" x="336.3" y="569.1" textLength="35.6" lengthAdjust="spacingAndGlyphs">2089 CRE</text>
<text class="dj lg" style="font-size:7px;stroke:#111;stroke-width:0.35px" x="372.2" y="567.0">+</text>
</g>
</svg></body></html>
